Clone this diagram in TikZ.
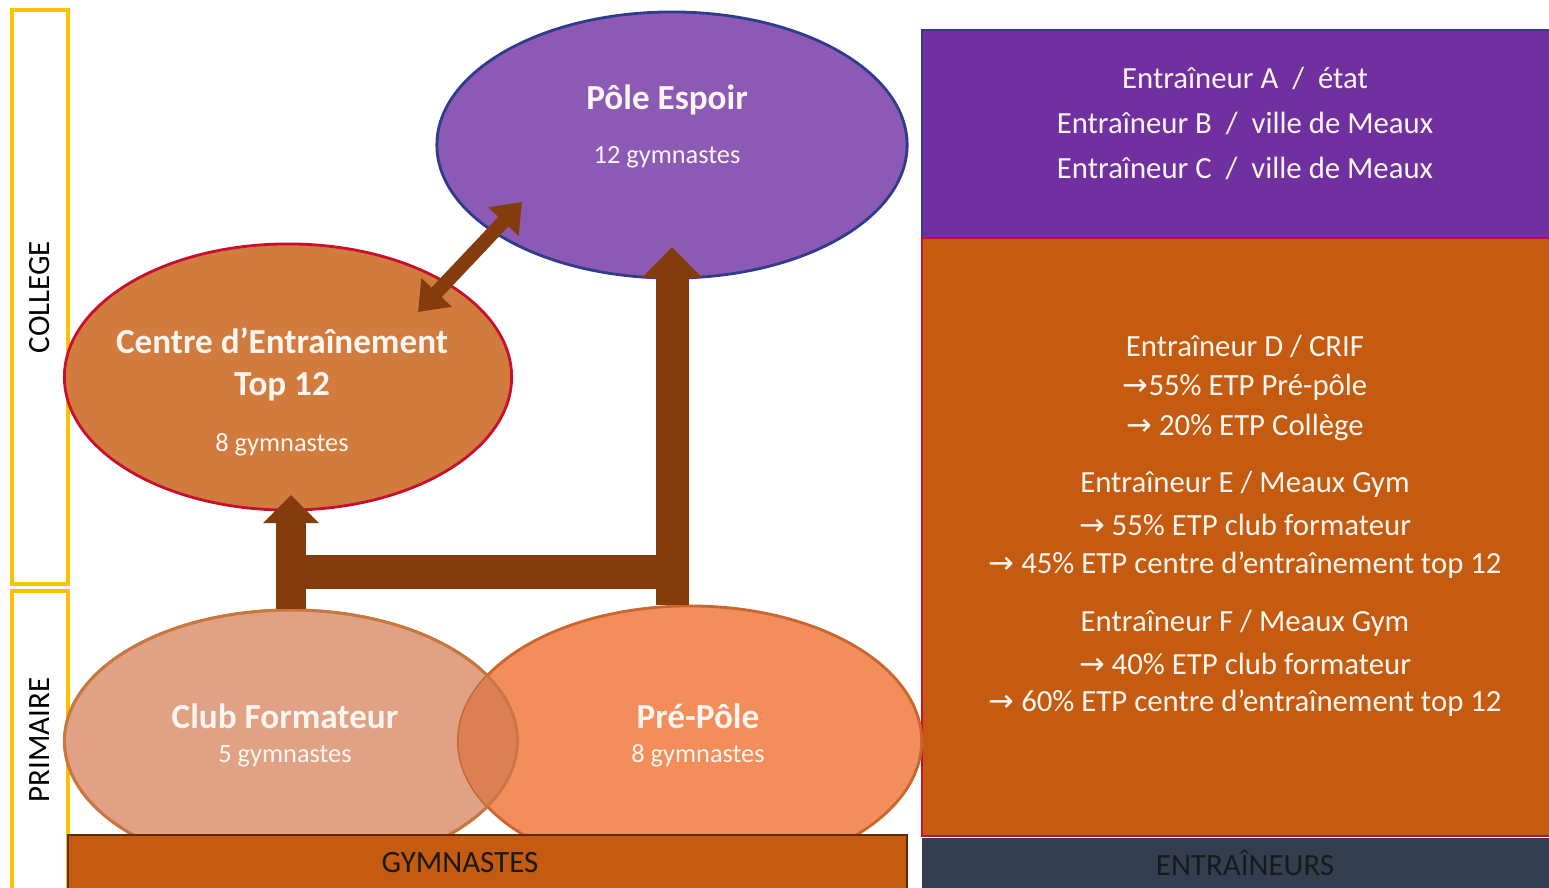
\documentclass[tikz,border=0pt]{standalone}
\usepackage{fontspec}
\setmainfont{Carlito}
\newfontfamily\arr{DejaVu Sans}
\usetikzlibrary{arrows.meta,shapes.geometric,calc}
\definecolor{gold}{HTML}{FFC000}
\definecolor{pefill}{HTML}{8C5AB5}
\definecolor{pedraw}{HTML}{2F3C8C}
\definecolor{cefill}{HTML}{D27B3E}
\definecolor{cedraw}{HTML}{C8102E}
\definecolor{cffill}{HTML}{E0A185}
\definecolor{cfdraw}{HTML}{C8773F}
\definecolor{ppfill}{HTML}{F38D5C}
\definecolor{ppdraw}{HTML}{C8662E}
\definecolor{ovfill}{HTML}{DB7F55}
\definecolor{brn}{HTML}{843C0C}
\definecolor{purbox}{HTML}{7030A0}
\definecolor{orbox}{HTML}{C55A11}
\definecolor{slate}{HTML}{333F50}
\definecolor{txtw}{HTML}{FDF6F0}
\tikzset{
  lvl/.style={draw=gold, line width=1.2pt, fill=white},
  ell/.style={ellipse, inner sep=0pt, line width=0.8pt},
  ttl/.style={text=txtw, font=\bfseries\fontsize{10}{12}\selectfont},
  sub/.style={text=txtw, font=\fontsize{7.5}{9}\selectfont},
  rtxt/.style={text=txtw, font=\fontsize{8.75}{10}\selectfont},
  bartxt/.style={text=black!90, font=\fontsize{8.8}{10}\selectfont},
  lvltxt/.style={rotate=90, text=black, font=\fontsize{8.8}{10}\selectfont},
  fat/.style={draw=brn, line width=0.33cm},
  arrowtip/.style={-{Triangle[width=0.59cm,length=0.31cm]}}
}
\begin{document}
\begin{tikzpicture}[x=0.01cm,y=-0.01cm]
\useasboundingbox (0,0) rectangle (1549,887);
% level boxes
\draw[lvl] (12,10) rectangle (68,584);
\draw[lvl] (12,591) rectangle (68,895);
\node[lvltxt] (col) at (40,297) {COLLEGE};
\node[lvltxt] (pri) at (40,740) {PRIMAIRE};
% right boxes
\draw[fill=purbox, draw=pedraw, line width=0.8pt] (922,30) rectangle (1560,238);
\draw[fill=orbox, draw=cedraw, line width=0.8pt] (922,238) rectangle (1560,836);
\fill[slate] (922,838) rectangle (1560,895);
\node[bartxt] (ent) at (1245,863) {ENTRAÎNEURS};
% ellipses
\node[ell, draw=pedraw, fill=pefill, minimum width=4.70cm, minimum height=2.66cm] (pe) at (672,145) {};
\node[ell, draw=cedraw, fill=cefill, minimum width=4.47cm, minimum height=2.66cm] (ce) at (288,377) {};
\node[ell, draw=cfdraw, fill=cffill, minimum width=4.53cm, minimum height=2.62cm] (cf) at (291,741) {};
\node[ell, draw=ppdraw, fill=ppfill, minimum width=4.63cm, minimum height=2.70cm] (pp) at (690,741) {};
\begin{scope}
  \clip (291,741) ellipse [x radius=226.5, y radius=-131];
  \fill[ovfill] (690,741) ellipse [x radius=231.5, y radius=-135];
\end{scope}
\draw[cfdraw, line width=0.8pt] (291,741) ellipse [x radius=226.5, y radius=-131];
% bottom bar gymnastes
\draw[fill=orbox, draw=brn!70!black, line width=0.6pt] (68,835) rectangle (907,895);
\node[bartxt] (gym) at (460,863) {GYMNASTES};
% texts
\node[ttl] at (667,100) {Pôle Espoir};
\node[sub] at (667,157) {12 gymnastes};
\node[ttl] at (282,341) {Centre d’Entraînement};
\node[ttl] at (282,387) {Top 12};
\node[sub] at (282,445) {8 gymnastes};
\node[ttl] at (285,716) {Club Formateur};
\node[sub] at (285,756) {5 gymnastes};
\node[ttl] at (698,716) {Pré-Pôle};
\node[sub] at (698,756) {8 gymnastes};
% right texts
\node[rtxt] at (1245,78) {Entraîneur A \ / \ état};
\node[rtxt] at (1245,123) {Entraîneur B \ / \ ville de Meaux};
\node[rtxt] at (1245,168) {Entraîneur C \ / \ ville de Meaux};
\node[rtxt] at (1245,346) {Entraîneur D / CRIF};
\node[rtxt] at (1245,387) {{\arr →}55\% ETP Pré-pôle};
\node[rtxt] at (1245,427) {{\arr →} 20\% ETP Collège};
\node[rtxt] at (1245,484) {Entraîneur E / Meaux Gym};
\node[rtxt] at (1245,525) {{\arr →} 55\% ETP club formateur};
\node[rtxt] at (1245,565) {{\arr →} 45\% ETP centre d’entraînement top 12};
\node[rtxt] at (1245,623) {Entraîneur F / Meaux Gym};
\node[rtxt] at (1245,664) {{\arr →} 40\% ETP club formateur};
\node[rtxt] at (1245,703) {{\arr →} 60\% ETP centre d’entraînement top 12};
% connectors
\coordinate (jR) at (672,572);
\coordinate (jL) at (291,572);
\coordinate (peIn) at (672,247);
\coordinate (ceIn) at (291,495);
\coordinate (ceDiag) at (418,312);
\coordinate (peDiag) at (522,202);
\draw[draw=brn, line width=0.34cm] (jR) -- (jL);
\draw[fat, arrowtip] (jR |- pp.north) -- (peIn);
\draw[draw=brn, line width=0.29cm, -{Triangle[width=0.54cm,length=0.28cm]}] (jL |- cf.north) -- (ceIn);
\draw[draw=brn, line width=0.14cm, {Triangle[width=0.4cm,length=0.27cm]}-{Triangle[width=0.4cm,length=0.27cm]}] (ceDiag) -- (peDiag);
\end{tikzpicture}
\end{document}
